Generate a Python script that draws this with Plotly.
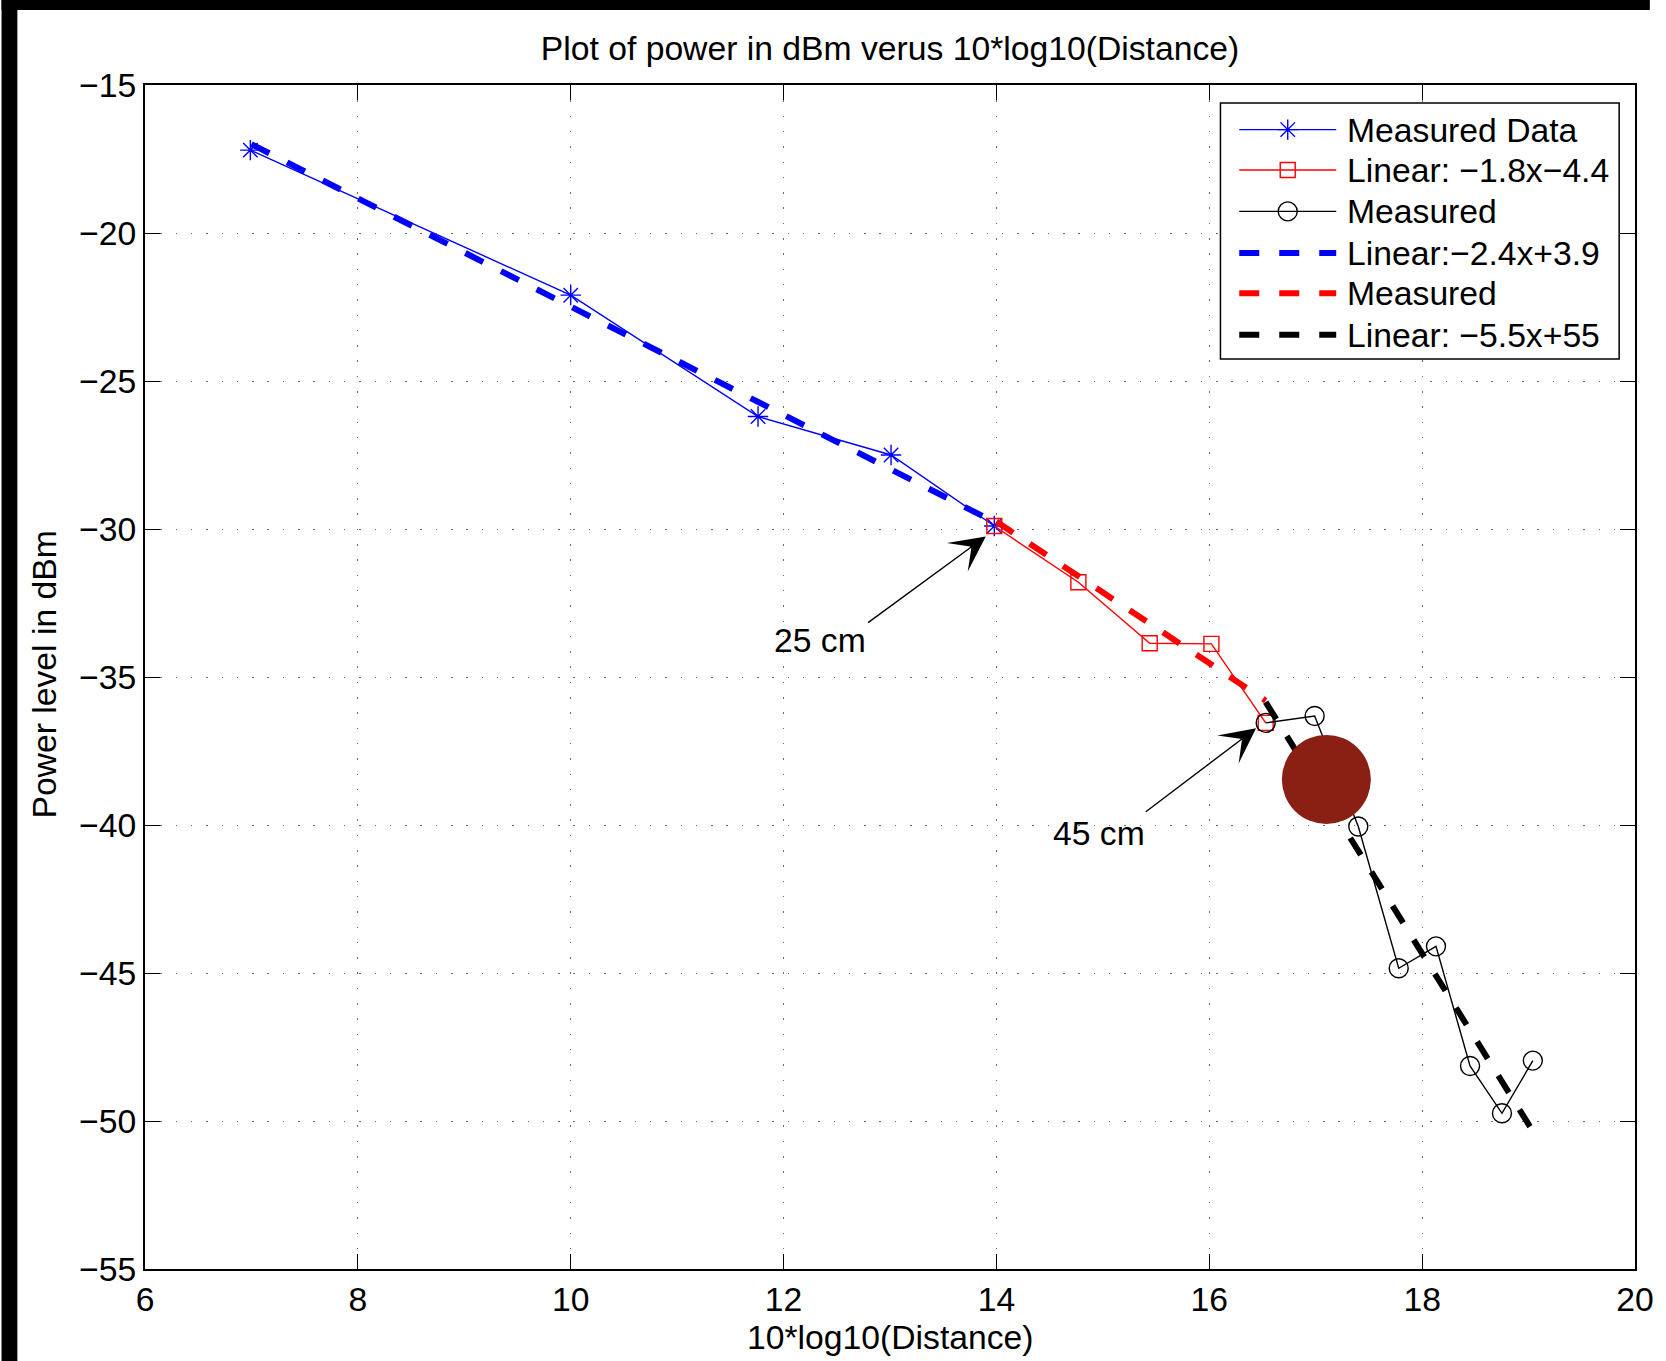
import plotly.graph_objects as go

# Received power against 10*log10(distance), split into three distance ranges
near_x = [6.99, 10.0, 11.76, 13.01, 13.98]
near_y = [-17.2, -22.1, -26.2, -27.5, -29.9]

mid_x = [13.98, 14.77, 15.44, 16.02, 16.53]
mid_y = [-29.9, -31.8, -33.86, -33.88, -36.55]

far_x = [16.53, 16.99, 17.40, 17.78, 18.13, 18.45, 18.75, 19.04]
far_y = [-36.55, -36.32, -40.05, -44.84, -44.10, -48.14, -49.74, -47.96]

# End points of the straight-line fits for each range
fit_near_x = [7.0, 14.0]
fit_near_y = [-17.0, -29.8]
fit_mid_x = [14.0, 16.53]
fit_mid_y = [-29.75, -35.8]
fit_far_x = [16.53, 19.05]
fit_far_y = [-35.85, -50.4]

# Highlighted spot on the far-range curve
spot_x = [17.10]
spot_y = [-38.46]

# Distance call-outs: (label, arrow tip x, tip y, tail x, tail y, label x, label y)
callouts = [
    ("25 cm", 13.90, -30.25, 12.78, -33.20, 12.34, -33.74),
    ("45 cm", 16.44, -36.73, 15.39, -39.59, 14.96, -40.27),
]

legend_labels = [
    "Measured Data",
    "Linear: \u22121.8x\u22124.4",
    "Measured",
    "Linear:\u22122.4x+3.9",
    "Measured",
    "Linear: \u22125.5x+55",
]

x_ticks = [6, 8, 10, 12, 14, 16, 18, 20]
y_ticks = [-55, -50, -45, -40, -35, -30, -25, -20, -15]
X_RANGE = [6, 20]
Y_RANGE = [-55, -15]

# ---- page geometry ----
W, H = 1666, 1361
ML, MR, MT, MB = 145, 15, 85, 92
PW, PH = W - ML - MR, H - MT - MB
FONT = "Liberation Sans, Arial, Helvetica, sans-serif"
FS = 33.7


def dx_right(off):
    """pixel offset from the right edge of the axes -> x data value"""
    return X_RANGE[1] + off / PW * (X_RANGE[1] - X_RANGE[0])


def dy_top(off):
    """pixel offset below the top edge of the axes -> y data value"""
    return Y_RANGE[1] - off / PH * (Y_RANGE[1] - Y_RANGE[0])


def pxp(px):
    return (px - ML) / PW


def pyp(py):
    return (H - MB - py) / PH


fig = go.Figure()

thin = 1.4
fat = 6
dash = "20px,20px"

fig.add_trace(go.Scatter(
    x=near_x, y=near_y, mode="lines+markers", name=legend_labels[0],
    line=dict(color="#0000ff", width=thin),
    marker=dict(symbol="asterisk-open", size=17, line=dict(color="#0000ff", width=thin)),
))
fig.add_trace(go.Scatter(
    x=mid_x, y=mid_y, mode="lines+markers", name=legend_labels[1],
    line=dict(color="#ff0000", width=thin),
    marker=dict(symbol="square-open", size=15, color="#ff0000", line=dict(color="#ff0000", width=thin)),
))
fig.add_trace(go.Scatter(
    x=far_x, y=far_y, mode="lines+markers", name=legend_labels[2],
    line=dict(color="#000000", width=thin),
    marker=dict(symbol="circle-open", size=19, color="#000000", line=dict(color="#000000", width=thin)),
))
fig.add_trace(go.Scatter(
    x=fit_near_x, y=fit_near_y, mode="lines", name=legend_labels[3],
    line=dict(color="#0000ff", width=fat, dash=dash),
))
fig.add_trace(go.Scatter(
    x=fit_mid_x, y=fit_mid_y, mode="lines", name=legend_labels[4],
    line=dict(color="#ff0000", width=fat, dash=dash),
))
fig.add_trace(go.Scatter(
    x=fit_far_x, y=fit_far_y, mode="lines", name=legend_labels[5],
    line=dict(color="#000000", width=fat, dash=dash),
))
fig.add_trace(go.Scatter(
    x=spot_x, y=spot_y, mode="markers", name="spot",
    marker=dict(symbol="circle", size=89, color="#8a1f14", line=dict(width=0)),
))

# ---- legend box drawn inside the axes, anchored to the top-right corner ----
box = dict(x0=dx_right(-419), x1=dx_right(-16), y0=dy_top(274), y1=dy_top(18))
fig.add_shape(type="rect", xref="x", yref="y", layer="between",
              fillcolor="white", line=dict(color="black", width=1.5), **box)

row_off = [44.6, 85.0, 126.4, 167.9, 208.3, 249.7]
sx0, sx1, sxm, tx = dx_right(-400), dx_right(-302), dx_right(-351), dx_right(-293)
legend_styles = [
    dict(color="#0000ff", width=thin, dash="solid", symbol="asterisk-open", size=17),
    dict(color="#ff0000", width=thin, dash="solid", symbol="square-open", size=15),
    dict(color="#000000", width=thin, dash="solid", symbol="circle-open", size=19),
    dict(color="#0000ff", width=fat, dash=dash, symbol=None, size=0),
    dict(color="#ff0000", width=fat, dash=dash, symbol=None, size=0),
    dict(color="#000000", width=fat, dash=dash, symbol=None, size=0),
]
for label, ro, st in zip(legend_labels, row_off, legend_styles):
    yv = dy_top(ro)
    fig.add_trace(go.Scatter(
        x=[sx0, sx1], y=[yv, yv], mode="lines", showlegend=False, hoverinfo="skip",
        line=dict(color=st["color"], width=st["width"], dash=st["dash"]),
    ))
    if st["symbol"]:
        fig.add_trace(go.Scatter(
            x=[sxm], y=[yv], mode="markers", showlegend=False, hoverinfo="skip",
            marker=dict(symbol=st["symbol"], size=st["size"], color=st["color"],
                        line=dict(color=st["color"], width=thin)),
        ))
    fig.add_annotation(x=tx, y=yv, xref="x", yref="y", text=label, showarrow=False,
                       xanchor="left", yanchor="middle",
                       font=dict(family=FONT, size=FS, color="black"))

# ---- call-out arrows ----
for text, hx, hy, tx_, ty_, lx, ly in callouts:
    fig.add_annotation(x=hx, y=hy, ax=tx_, ay=ty_, xref="x", yref="y",
                       axref="x", ayref="y", text="", showarrow=True,
                       arrowhead=3, arrowsize=4.2, arrowwidth=1.4, arrowcolor="black",
                       standoff=0, startstandoff=0)
    fig.add_annotation(x=lx, y=ly, xref="x", yref="y", text=text, showarrow=False,
                       xanchor="center", yanchor="middle",
                       font=dict(family=FONT, size=FS, color="black"))

# ---- axis titles ----
fig.add_annotation(x=0.5, y=pyp(1337), xref="paper", yref="paper",
                   text="10*log10(Distance)", showarrow=False,
                   xanchor="center", yanchor="middle",
                   font=dict(family=FONT, size=FS, color="black"))
fig.add_annotation(x=pxp(42.5), y=pyp(675), xref="paper", yref="paper",
                   text="Power level in dBm", showarrow=False, textangle=-90,
                   xanchor="center", yanchor="middle",
                   font=dict(family=FONT, size=FS, color="black"))

# ---- dark frame along the top and left edges of the page ----
fig.add_shape(type="rect", xref="paper", yref="paper", layer="above",
              x0=pxp(0), x1=pxp(W), y0=pyp(10), y1=pyp(0),
              fillcolor="black", line=dict(width=0))
fig.add_shape(type="rect", xref="paper", yref="paper", layer="above",
              x0=pxp(0), x1=pxp(16), y0=pyp(H), y1=pyp(0),
              fillcolor="black", line=dict(width=0))

axis_common = dict(
    ticks="inside", ticklen=15, tickwidth=1.3, tickcolor="black",
    showline=True, linewidth=2, linecolor="black", mirror="ticks",
    showgrid=True, gridcolor="#6e6e6e", gridwidth=1, griddash="1.5px,13.8px",
    zeroline=False, ticklabeloverflow="allow",
    tickfont=dict(family=FONT, size=FS, color="black"),
)

fig.update_layout(
    width=W, height=H,
    margin=dict(l=ML, r=MR, t=MT, b=MB, pad=0),
    paper_bgcolor="white", plot_bgcolor="white",
    showlegend=False,
    title=dict(text="Plot of power in dBm verus 10*log10(Distance)",
               x=0.5, xref="paper", xanchor="center",
               y=1 - 48 / H, yref="container", yanchor="middle",
               font=dict(family=FONT, size=FS, color="black")),
    xaxis=dict(range=X_RANGE, tickvals=x_ticks, **axis_common),
    yaxis=dict(range=Y_RANGE, tickvals=y_ticks, **axis_common),
    font=dict(family=FONT, size=FS, color="black"),
)

fig.write_html("out.html")
